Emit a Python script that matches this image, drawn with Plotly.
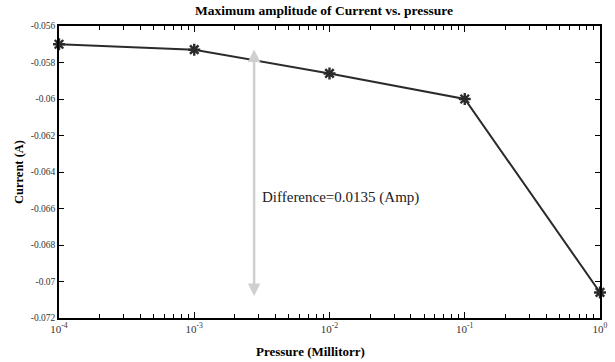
import math
import plotly.graph_objects as go

pressure = [1e-4, 1e-3, 1e-2, 1e-1, 1e0]
current = [-0.0570, -0.0573, -0.0586, -0.0600, -0.0706]
yticks = [-0.056, -0.058, -0.060, -0.062, -0.064, -0.066, -0.068, -0.070, -0.072]
ytick_labels = ["-0.056", "-0.058", "-0.06", "-0.062", "-0.064", "-0.066", "-0.068", "-0.07", "-0.072"]
xticks = [1e-4, 1e-3, 1e-2, 1e-1, 1e0]
xtick_labels = ["10<sup>-4</sup>", "10<sup>-3</sup>", "10<sup>-2</sup>", "10<sup>-1</sup>", "10<sup>0</sup>"]
arrow_x = 0.00277
arrow_top = -0.0572
arrow_bottom = -0.0708
note_x = 0.00306
note_y = -0.0654
note_text = "Difference=0.0135 (Amp)"

minor_vals = [m * d for d in xticks[:-1] for m in range(2, 10)]

fig = go.Figure()
fig.add_trace(go.Scatter(
    x=pressure, y=current, mode="lines+markers",
    line=dict(color="#2b2b2b", width=2),
    marker=dict(symbol="asterisk-open", size=10, color="#2b2b2b",
                line=dict(color="#2b2b2b", width=2.4)),
    showlegend=False, cliponaxis=False,
))

# double-headed arrow (log axis: annotation x in log10 units)
ax_log = math.log10(arrow_x)
fig.add_annotation(x=ax_log, y=arrow_bottom, ax=ax_log, ay=arrow_top,
                   xref="x", yref="y", axref="x", ayref="y",
                   showarrow=True, arrowhead=2, arrowside="end+start",
                   arrowsize=1, arrowwidth=2.5, arrowcolor="#cfcfcf", text="")
fig.add_annotation(x=math.log10(note_x), y=note_y, xref="x", yref="y", text=note_text,
                   showarrow=False, xanchor="left", yanchor="middle",
                   font=dict(family="Liberation Serif", size=15, color="#222222"))
fig.add_annotation(x=0.465, y=-0.116, xref="paper", yref="paper",
                   text="<b>Pressure (Millitorr)</b>", showarrow=False,
                   xanchor="center", yanchor="middle",
                   font=dict(family="Liberation Serif", size=13, color="black"))

fig.update_layout(
    width=615, height=362,
    margin=dict(l=59, r=7, t=26, b=44),
    paper_bgcolor="white", plot_bgcolor="white",
    title=dict(text="<b>Maximum amplitude of Current vs. pressure</b>",
               x=0.527, xanchor="center", y=0.985, yanchor="top",
               font=dict(family="Liberation Serif", size=13.5, color="black")),
    font=dict(family="Liberation Serif", color="#333333"),
)
fig.update_xaxes(
    type="log", range=[-4, 0], tickvals=xticks, ticktext=xtick_labels,
    ticks="inside", ticklen=6, tickcolor="black", showgrid=False,
    showline=True, linecolor="black", linewidth=1.5, mirror="ticks",
    tickfont=dict(family="Liberation Serif", size=11, color="#333333"),
    minor=dict(tickvals=minor_vals, ticks="inside", ticklen=4, tickcolor="black", showgrid=False),
    zeroline=False,
)
fig.update_yaxes(
    range=[-0.072, -0.056], tickvals=yticks, ticktext=ytick_labels,
    ticks="inside", ticklen=5, tickcolor="black", showgrid=False,
    showline=True, linecolor="black", linewidth=1.5, mirror="ticks",
    tickfont=dict(family="Liberation Serif", size=9.5, color="#333333"),
    title=dict(text="<b>Current (A)</b>", standoff=4,
               font=dict(family="Liberation Serif", size=12.5, color="black")),
    zeroline=False,
)
fig.write_html("out.html")
